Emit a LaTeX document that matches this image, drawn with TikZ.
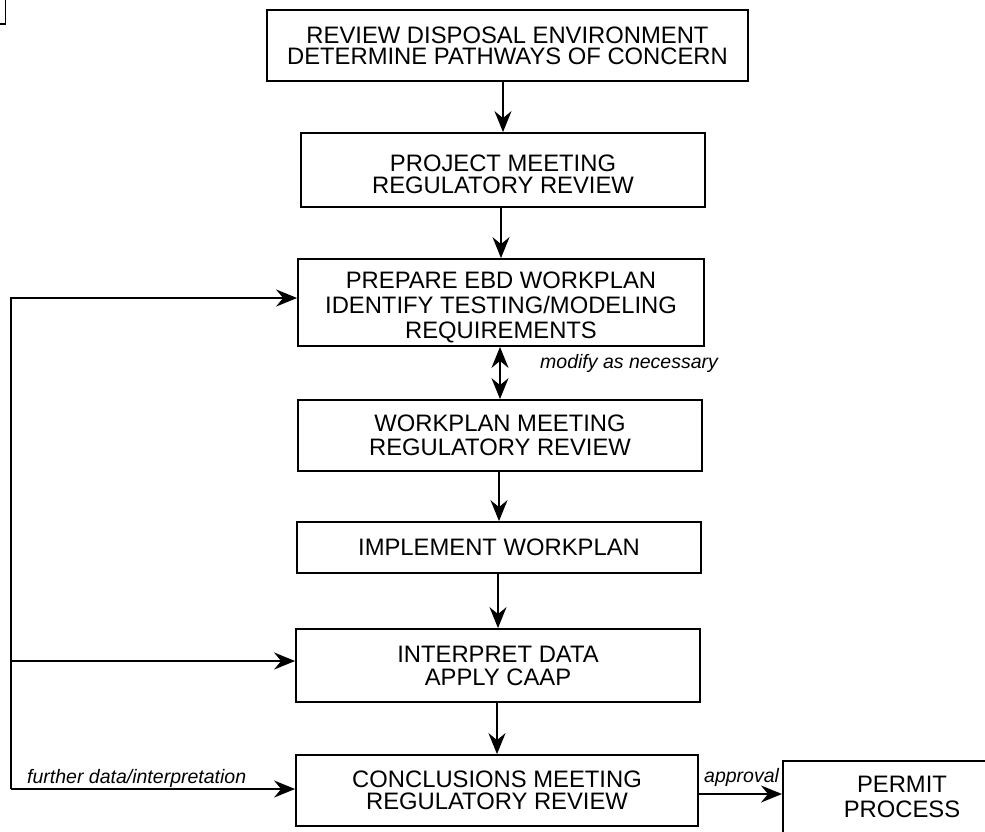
\documentclass[tikz,border=0pt]{standalone}
\usepackage{fontspec}
\setmainfont{Liberation Sans}
\usetikzlibrary{arrows.meta}
\tikzset{
  stepbox/.style={draw, line width=1.8pt, align=center, inner sep=0pt},
  ls/.style={font=\fontsize{23.8}{#1}\selectfont},
  arr/.style={line width=1.8pt, -{Stealth[length=21pt,width=17pt,inset=7pt]}},
  darr/.style={line width=1.8pt, {Stealth[length=21pt,width=17pt,inset=7pt]}-{Stealth[length=21pt,width=17pt,inset=7pt]}},
  lbl/.style={inner sep=0pt, font=\fontsize{19.5}{22}\selectfont\itshape},
}
\begin{document}
\begin{tikzpicture}[x=1pt,y=-1pt]
\useasboundingbox (0,0) rectangle (985,831);
\clip (0,0) rectangle (985,831);
\fill[white] (0,0) rectangle (985,831);
% corner mark
\draw[line width=1.4pt] (0,24) -- (5.5,24) -- (5.5,0);
% boxes
\node[stepbox, ls=21, minimum width=481pt, minimum height=71pt] (b1) at (507.5,45.5)
  {REVIEW DISPOSAL ENVIRONMENT\\DETERMINE PATHWAYS OF CONCERN};
\node[stepbox, ls=21.5, minimum width=404pt, minimum height=74pt] (b2) at (503,170)
  {\rule{0pt}{25.5pt}PROJECT MEETING\\REGULATORY REVIEW};
\node[stepbox, ls=25, minimum width=406pt, minimum height=87pt] (b3) at (501,302.5)
  {\rule{0pt}{25.5pt}PREPARE EBD WORKPLAN\\IDENTIFY TESTING/MODELING\\REQUIREMENTS};
\node[stepbox, ls=23.5, minimum width=404pt, minimum height=71pt] (b4) at (500,435.5)
  {WORKPLAN MEETING\\REGULATORY REVIEW};
\node[stepbox, ls=23, minimum width=404pt, minimum height=51pt] (b5) at (499,547.5)
  {IMPLEMENT WORKPLAN};
\node[stepbox, ls=23, minimum width=404pt, minimum height=73pt] (b6) at (498,665.5)
  {INTERPRET DATA\\APPLY CAAP};
\node[stepbox, ls=21.5, minimum width=402pt, minimum height=71pt] (b7) at (497,790.5)
  {CONCLUSIONS MEETING\\REGULATORY REVIEW};
\node[stepbox, minimum width=240pt, minimum height=100pt, anchor=north west] (b8) at (782,760) {};
\node[ls=25, inner sep=0pt, align=center] (b8t) at (902,797)
  {PERMIT\\PROCESS};
% vertical connectors
\draw[arr] (b2.north |- b1.south) -- (b2.north);
\draw[arr] (b3.north |- b2.south) -- (b3.north);
\draw[darr] (b4.north |- b3.south) -- (b4.north);
\draw[arr] (b5.north |- b4.south) -- (b5.north);
\draw[arr] (b6.north |- b5.south) -- (b6.north);
\draw[arr] (b7.north |- b6.south) -- (b7.north);
% feedback loop
\coordinate (lt) at (11,298);
\coordinate (lm) at (11,661);
\coordinate (lb) at (11,789);
\draw[arr] (lb) -- (lt) -- (b3.west |- lt);
\draw[arr] (lm) -- (b6.west |- lm);
\draw[arr] (lb) -- (b7.west |- lb);
% approval
\coordinate (ay) at (0,794);
\draw[arr] (b7.east |- ay) -- (b8.west |- ay);
% labels
\node[lbl, anchor=base west] (l1) at (540,368) {modify as necessary};
\node[lbl, anchor=base west] (l2) at (27,783) {further data/interpretation};
\node[lbl, anchor=base west] (l3) at (704,782) {approval};
\end{tikzpicture}
\end{document}
